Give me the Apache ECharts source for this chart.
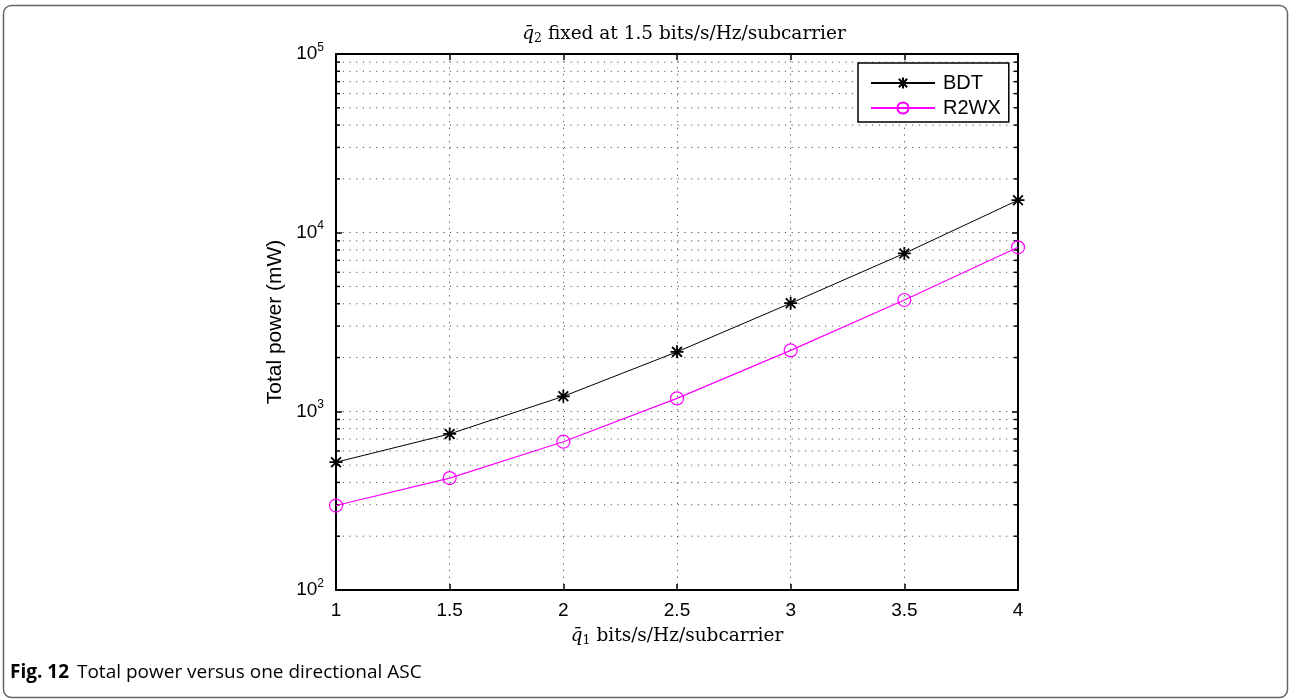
<!DOCTYPE html>
<html>
<head>
<meta charset="utf-8">
<script src="https://cdn.jsdelivr.net/npm/echarts@6/dist/echarts.min.js"></script>
<style>
html,body{margin:0;padding:0;background:#fff;}
#chart{width:1290px;height:699px;}
</style>
</head>
<body>
<div id="chart"></div>
<script>
// ---- data ----
var xValues = [1, 1.5, 2, 2.5, 3, 3.5, 4];
var bdtPower = [519, 747, 1213, 2152, 4028, 7656, 15200];
var r2wxPower = [297, 423, 676, 1182, 2193, 4200, 8280];
var xTickLabels = ['1', '1.5', '2', '2.5', '3', '3.5', '4'];
var yDecades = [100, 1000, 10000, 100000];
var yMinorMultipliers = [2, 3, 4, 5, 6, 7, 8, 9];

var minorVals = [];
yDecades.slice(0, 3).forEach(function (d) {
  yMinorMultipliers.forEach(function (m) { minorVals.push([1, m * d]); });
});

var sans = '"Liberation Sans", Arial, sans-serif';
var serif = '"DejaVu Serif", "Liberation Serif", serif';
var asterisk = 'path://M0,-10L0,10M-10,0L10,0M-7.5,-7.5L7.5,7.5M-7.5,7.5L7.5,-7.5';

var chart = echarts.init(document.getElementById('chart'), null, {renderer: 'canvas'});

var gridDash = [1.2, 5.5];
var gridColor = '#555';

var mathRich = {
  i: {fontFamily: serif, fontStyle: 'italic', fontWeight: 'normal', fontSize: 18.5, color: '#000'},
  sub: {fontFamily: serif, fontWeight: 'normal', fontSize: 12.5, color: '#000', padding: [8, 0, 0, 0]},
  n: {fontFamily: serif, fontWeight: 'normal', fontSize: 18.5, color: '#000'}
};

var option = {
  backgroundColor: '#fff',
  animation: false,
  title: {
    text: '{i|q̄}{sub|2}{n| fixed at 1.5 bits/s/Hz/subcarrier}',
    left: 679, top: 19, textAlign: 'center',
    textStyle: {fontWeight: 'normal', rich: mathRich}
  },
  legend: {
    data: ['BDT', 'R2WX'],
    orient: 'vertical',
    left: 858, top: 63,
    padding: [10, 8, 4, 12],
    itemGap: 5,
    itemWidth: 64, itemHeight: 14,
    backgroundColor: '#fff',
    borderColor: '#000', borderWidth: 1.5, borderRadius: 0,
    textStyle: {fontFamily: sans, fontSize: 20, color: '#000', padding: [0, 0, 0, 3]},
    z: 10
  },
  grid: {left: 336, right: 272, top: 54, bottom: 109, containLabel: false},
  xAxis: [{
    type: 'value', min: 1, max: 4, interval: 0.5,
    axisLine: {show: true, lineStyle: {color: '#000', width: 2}},
    axisTick: {show: true, inside: true, length: 6, lineStyle: {color: '#000', width: 1.5}},
    axisLabel: {
      margin: 11, fontFamily: sans, fontSize: 19, color: '#000',
      formatter: function (v) { var i = xValues.indexOf(v); return i >= 0 ? xTickLabels[i] : ''; }
    },
    splitLine: {show: true, lineStyle: {color: gridColor, width: 1, type: gridDash}},
    name: '{i|q̄}{sub|1}{n| bits/s/Hz/subcarrier}',
    nameLocation: 'middle', nameGap: 36,
    nameTextStyle: {rich: mathRich}
  }, {
    type: 'value', min: 1, max: 4, interval: 0.5, position: 'top',
    axisLine: {show: true, lineStyle: {color: '#000', width: 2}},
    axisTick: {show: true, inside: true, length: 6, lineStyle: {color: '#000', width: 1.5}},
    axisLabel: {show: false}, splitLine: {show: false}
  }],
  yAxis: [{
    type: 'log', logBase: 10, min: 100, max: 100000,
    axisLine: {show: true, lineStyle: {color: '#000', width: 2}},
    axisTick: {show: true, inside: true, length: 6, lineStyle: {color: '#000', width: 1.5}},
    axisLabel: {
      margin: 12, color: '#000',
      formatter: function (v) {
        var e = Math.round(Math.log(v) / Math.LN10);
        return '{b|10}{s|' + e + '}';
      },
      rich: {
        b: {fontFamily: sans, fontSize: 19, color: '#000'},
        s: {fontFamily: sans, fontSize: 12, color: '#000', padding: [0, 0, 13, 0]}
      }
    },
    splitLine: {show: true, lineStyle: {color: gridColor, width: 1, type: gridDash}},
    name: 'Total power (mW)',
    nameLocation: 'middle', nameGap: 48,
    nameTextStyle: {fontFamily: sans, fontSize: 21, color: '#000'}
  }, {
    type: 'log', logBase: 10, min: 100, max: 100000, position: 'right',
    axisLine: {show: true, lineStyle: {color: '#000', width: 2}},
    axisTick: {show: true, inside: true, length: 6, lineStyle: {color: '#000', width: 1.5}},
    axisLabel: {show: false}, splitLine: {show: false}
  }],
  series: [{
    name: 'minorGrid',
    type: 'custom',
    silent: true,
    xAxisIndex: 0, yAxisIndex: 0,
    data: minorVals,
    z: 1,
    renderItem: function (params, api) {
      var cs = params.coordSys;
      var y = api.coord([1, api.value(1)])[1];
      var x0 = cs.x, x1 = cs.x + cs.width;
      return {
        type: 'group',
        children: [{
          type: 'line',
          shape: {x1: x0, y1: y, x2: x1, y2: y},
          style: {stroke: gridColor, lineWidth: 1, lineDash: gridDash}
        }, {
          type: 'line',
          shape: {x1: x0, y1: y, x2: x0 + 4, y2: y},
          style: {stroke: '#000', lineWidth: 1.5}
        }, {
          type: 'line',
          shape: {x1: x1 - 4, y1: y, x2: x1, y2: y},
          style: {stroke: '#000', lineWidth: 1.5}
        }]
      };
    }
  }, {
    name: 'BDT',
    type: 'line',
    data: xValues.map(function (x, i) { return [x, bdtPower[i]]; }),
    symbol: asterisk, symbolSize: 13, showSymbol: true,
    lineStyle: {color: '#000', width: 1},
    itemStyle: {color: '#000', borderColor: '#000', borderWidth: 1.8},
    z: 5
  }, {
    name: 'R2WX',
    type: 'line',
    data: xValues.map(function (x, i) { return [x, r2wxPower[i]]; }),
    symbol: 'circle', symbolSize: 13, showSymbol: true,
    lineStyle: {color: '#ff00ff', width: 1.2},
    itemStyle: {color: 'rgba(255,255,255,0)', borderColor: '#ff00ff', borderWidth: 1.2},
    z: 5
  }],
  graphic: [{
    type: 'rect',
    shape: {x: 3.5, y: 5.5, width: 1284, height: 692, r: 8},
    style: {fill: 'none', stroke: '#666', lineWidth: 1.5},
    silent: true, z: -1
  }, {
    type: 'text',
    left: 10, top: 663,
    style: {
      text: '{b|Fig. 12}{n| Total power versus one directional ASC}',
      rich: {
        b: {fontFamily: '"Open Sans", sans-serif', fontWeight: 'bold', fontSize: 19, fill: '#000'},
        n: {fontFamily: '"Open Sans", sans-serif', fontSize: 19, fill: '#000', padding: [0, 0, 0, 3]}
      }
    }
  }]
};
chart.setOption(option);
</script>
</body>
</html>
